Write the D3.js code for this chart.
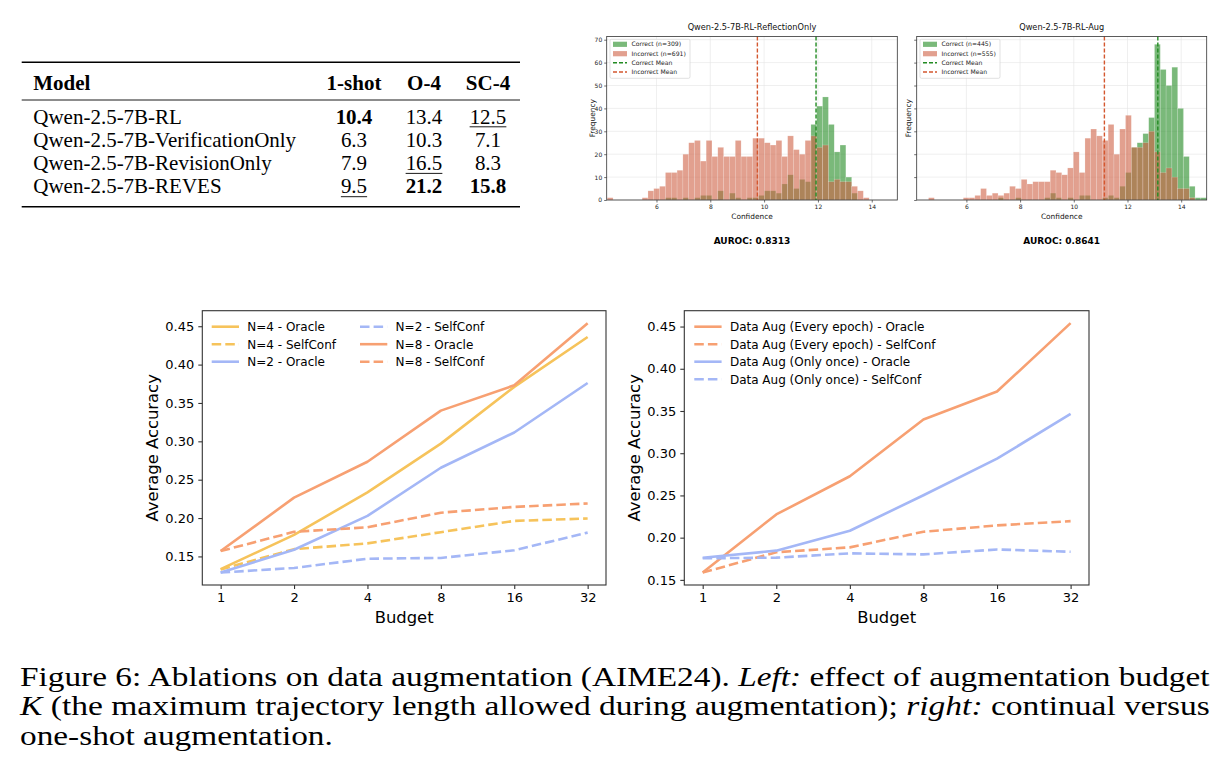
<!DOCTYPE html>
<html>
<head>
<meta charset="utf-8">
<style>
  body { margin: 0; background: #fff; }
  svg { display: block; }
</style>
</head>
<body>
<svg id="fig" width="1228" height="775" font-family="DejaVu Sans, sans-serif"></svg>
<script src="https://d3js.org/d3.v7.min.js"></script>
<script>
// ---- table data ----
const tableHeader = ["Model", "1-shot", "O-4", "SC-4"];
const tableModels = ["Qwen-2.5-7B-RL", "Qwen-2.5-7B-VerificationOnly", "Qwen-2.5-7B-RevisionOnly", "Qwen-2.5-7B-REVES"];
const oneShot = [10.4, 6.3, 7.9, 9.5];
const oracle4 = [13.4, 10.3, 16.5, 21.2];
const selfConf4 = [12.5, 7.1, 8.3, 15.8];

// ---- histogram data (counts per bin) ----
const histXTicks = [6, 8, 10, 12, 14];
const histYTicks = [0, 10, 20, 30, 40, 50, 60, 70];
const leftBinStart = 4.17, leftBinWidth = 0.2163;
const leftIncorrect = [1, 0, 0, 0, 0, 0, 1, 4, 5, 6, 12, 12, 13, 20, 25, 26, 17, 26, 19, 23, 19, 19, 26, 19, 19,
  27, 27, 25, 24, 26, 19, 28, 22, 20, 26, 28, 23, 24, 8, 9, 8, 8, 6, 4, 1];
const leftCorrect = [0, 0, 0, 0, 0, 0, 0, 0, 0, 0, 1, 1, 0, 1, 0, 1, 2, 2, 0, 4, 0, 3, 1, 0, 1,
  1, 2, 4, 4, 3, 7, 11, 5, 9, 8, 33, 41, 45, 33, 21, 24, 10, 3, 0, 0];
const rightBinStart = 4.59, rightBinWidth = 0.2158;
const rightIncorrect = [1, 0, 0, 0, 0, 0, 1, 1, 2, 5, 2, 3, 2, 3, 6, 5, 9, 7, 8, 8, 8, 13, 12, 11, 14,
  21, 12, 27, 31, 28, 26, 33, 20, 31, 37, 23, 23, 25, 30, 21, 12, 14, 10, 5, 5, 1, 0, 0];
const rightCorrect = [0, 0, 0, 0, 0, 0, 0, 0, 0, 0, 0, 0, 1, 0, 0, 1, 0, 0, 0, 0, 1, 3, 1, 0, 1,
  0, 2, 2, 0, 0, 1, 2, 1, 6, 12, 23, 25, 29, 36, 68, 57, 50, 58, 40, 19, 6, 1, 1];
const leftMeans = { correct: 11.93, incorrect: 9.75 };
const rightMeans = { correct: 13.13, incorrect: 11.14 };

// ---- line chart data ----
const budgets = [1, 2, 4, 8, 16, 32];
const accTicks = [0.15, 0.20, 0.25, 0.30, 0.35, 0.40, 0.45];
const n4Oracle = [0.1335, 0.178, 0.2335, 0.297, 0.371, 0.436];
const n4SelfConf = [0.133, 0.1595, 0.167, 0.1816, 0.1963, 0.1994];
const n2Oracle = [0.129, 0.1587, 0.2028, 0.2656, 0.3115, 0.376];
const n2SelfConf = [0.129, 0.135, 0.147, 0.148, 0.158, 0.181];
const n8Oracle = [0.157, 0.2266, 0.2734, 0.340, 0.373, 0.454];
const n8SelfConf = [0.157, 0.182, 0.188, 0.207, 0.2145, 0.219];
const everyOracle = [0.1587, 0.2275, 0.2727, 0.3399, 0.373, 0.454];
const everySelfConf = [0.1587, 0.1827, 0.1885, 0.207, 0.2145, 0.2196];
const onceOracle = [0.1763, 0.1846, 0.2082, 0.2502, 0.2935, 0.3466];
const onceSelfConf = [0.1756, 0.1763, 0.1814, 0.1802, 0.186, 0.1833];

const YELLOW = "#f6c35b", BLUE = "#a4b7f6", ORANGE = "#f7a072";
const GREEN = "#228b22", RED = "#cf6144";
const SERIF = "Liberation Serif, DejaVu Serif, serif";

const svg = d3.select("#fig");
svg.append("rect").attr("width", 1228).attr("height", 775).attr("fill", "#fff");

// ---------------- table ----------------
function drawTable() {
  const g = svg.append("g").attr("font-family", SERIF);
  // fit font size to the widest model name
  const probe = g.append("text").attr("font-size", 20).text(tableModels[1]);
  const fs = 20 * 263 / probe.node().getComputedTextLength();
  probe.remove();

  const left = 21.7, right = 520;
  const colX = [33.3, 354, 424, 488];
  const headY = 89.5;
  const rowY = [123.5, 146.8, 170.1, 193.4];

  g.append("line").attr("x1", left).attr("x2", right).attr("y1", 62.3).attr("y2", 62.3).attr("stroke", "#000").attr("stroke-width", 1.6);
  g.append("line").attr("x1", left).attr("x2", right).attr("y1", 100).attr("y2", 100).attr("stroke", "#000").attr("stroke-width", 0.9);
  g.append("line").attr("x1", left).attr("x2", right).attr("y1", 206.7).attr("y2", 206.7).attr("stroke", "#000").attr("stroke-width", 1.6);

  tableHeader.forEach((h, i) => {
    g.append("text").attr("x", colX[i]).attr("y", headY)
      .attr("text-anchor", i === 0 ? "start" : "middle")
      .attr("font-size", fs).attr("font-weight", "bold").text(h);
  });

  const cols = [oneShot, oracle4, selfConf4];
  tableModels.forEach((m, r) => {
    g.append("text").attr("x", colX[0]).attr("y", rowY[r]).attr("font-size", fs).text(m);
  });
  cols.forEach((vals, c) => {
    const sorted = vals.slice().sort((a, b) => b - a);
    vals.forEach((v, r) => {
      const t = g.append("text").attr("x", colX[c + 1]).attr("y", rowY[r]).attr("text-anchor", "middle")
        .attr("font-size", fs)
        .attr("font-weight", v === sorted[0] ? "bold" : null)
        .text(v.toFixed(1));
      if (v === sorted[1]) {
        const w = t.node().getComputedTextLength();
        g.append("line").attr("x1", colX[c + 1] - w / 2).attr("x2", colX[c + 1] + w / 2)
          .attr("y1", rowY[r] + 3.3).attr("y2", rowY[r] + 3.3).attr("stroke", "#000").attr("stroke-width", 0.9);
      }
    });
  });
}

// ---------------- histograms ----------------
function drawHist(cfg) {
  const g = svg.append("g");
  const x = d3.scaleLinear().domain([4.15, 14.95]).range([cfg.x0, cfg.x1]);
  const y = d3.scaleLinear().domain([0, 71.4]).range([cfg.y1, cfg.y0]);

  g.append("g").selectAll("line").data(histXTicks).join("line")
    .attr("x1", d => x(d)).attr("x2", d => x(d)).attr("y1", cfg.y0).attr("y2", cfg.y1)
    .attr("stroke", "#e4e4e4").attr("stroke-width", 0.6);
  g.append("g").selectAll("line").data(histYTicks).join("line")
    .attr("x1", cfg.x0).attr("x2", cfg.x1).attr("y1", d => y(d)).attr("y2", d => y(d))
    .attr("stroke", "#e4e4e4").attr("stroke-width", 0.6);

  [{ counts: cfg.correct, color: GREEN }, { counts: cfg.incorrect, color: RED }].forEach(s => {
    const bins = s.counts.map((c, i) => ({ c, lo: cfg.start + i * cfg.width, hi: cfg.start + (i + 1) * cfg.width }))
      .filter(d => d.c > 0);
    g.append("g").selectAll("rect").data(bins).join("rect")
      .attr("x", d => x(d.lo)).attr("width", d => x(d.hi) - x(d.lo))
      .attr("y", d => y(d.c)).attr("height", d => y(0) - y(d.c))
      .attr("fill", s.color).attr("fill-opacity", 0.6)
      .attr("stroke", "#fff").attr("stroke-opacity", 0.35).attr("stroke-width", 0.5);
  });

  g.append("line").attr("x1", x(cfg.means.correct)).attr("x2", x(cfg.means.correct)).attr("y1", cfg.y0).attr("y2", cfg.y1)
    .attr("stroke", GREEN).attr("stroke-width", 1.4).attr("stroke-dasharray", "4,2");
  g.append("line").attr("x1", x(cfg.means.incorrect)).attr("x2", x(cfg.means.incorrect)).attr("y1", cfg.y0).attr("y2", cfg.y1)
    .attr("stroke", "#d4572f").attr("stroke-width", 1.4).attr("stroke-dasharray", "4,2");

  g.append("rect").attr("x", cfg.x0).attr("y", cfg.y0).attr("width", cfg.x1 - cfg.x0).attr("height", cfg.y1 - cfg.y0)
    .attr("fill", "none").attr("stroke", "#333").attr("stroke-width", 0.8);

  const xa = g.append("g").attr("transform", `translate(0,${cfg.y1})`)
    .call(d3.axisBottom(x).tickValues(histXTicks).tickSize(2.5).tickPadding(2));
  const ya = g.append("g").attr("transform", `translate(${cfg.x0},0)`)
    .call(d3.axisLeft(y).tickValues(histYTicks).tickSize(2.5).tickPadding(2).tickFormat(cfg.yLabels ? d3.format("d") : () => ""));
  [xa, ya].forEach(a => {
    a.attr("font-family", null).attr("font-size", null);
    a.select(".domain").remove();
    a.selectAll("line").attr("stroke", "#333").attr("stroke-width", 0.7);
    a.selectAll("text").attr("font-size", 6).attr("fill", "#222");
  });

  const cx = (cfg.x0 + cfg.x1) / 2;
  g.append("text").attr("x", cx).attr("y", 30).attr("text-anchor", "middle").attr("font-size", 8.2).attr("fill", "#111").text(cfg.title);
  g.append("text").attr("x", cx).attr("y", 218.5).attr("text-anchor", "middle").attr("font-size", 7.4).attr("fill", "#111").text("Confidence");
  g.append("text").attr("transform", `translate(${cfg.yLabelX},${(cfg.y0 + cfg.y1) / 2}) rotate(-90)`)
    .attr("text-anchor", "middle").attr("dy", "0.35em").attr("font-size", 7.4).attr("fill", "#111").text("Frequency");
  g.append("text").attr("x", cx).attr("y", 243.5).attr("text-anchor", "middle").attr("font-size", 9).attr("font-weight", "bold").text(cfg.auroc);

  // legend
  const lg = g.append("g").attr("transform", `translate(${cfg.legendX},39.3)`);
  lg.append("rect").attr("width", 80).attr("height", 39).attr("rx", 1.5).attr("fill", "#fff").attr("fill-opacity", 0.8)
    .attr("stroke", "#ccc").attr("stroke-width", 0.6);
  const items = [
    { label: `Correct (n=${cfg.nCorrect})`, type: "patch", color: GREEN },
    { label: `Incorrect (n=${cfg.nIncorrect})`, type: "patch", color: RED },
    { label: "Correct Mean", type: "line", color: GREEN },
    { label: "Incorrect Mean", type: "line", color: "#d4572f" }
  ];
  const rows = [5, 14.4, 23.4, 32.7];
  items.forEach((it, i) => {
    if (it.type === "patch") {
      lg.append("rect").attr("x", 3).attr("y", rows[i] - 2.6).attr("width", 14).attr("height", 5.2)
        .attr("fill", it.color).attr("fill-opacity", 0.6);
    } else {
      lg.append("line").attr("x1", 3).attr("x2", 17).attr("y1", rows[i]).attr("y2", rows[i])
        .attr("stroke", it.color).attr("stroke-width", 1.4).attr("stroke-dasharray", "4,2");
    }
    lg.append("text").attr("x", 21.5).attr("y", rows[i]).attr("dy", "0.35em").attr("font-size", 6.1).attr("fill", "#222").text(it.label);
  });
}

// ---------------- line charts ----------------
function drawLines(cfg) {
  const g = svg.append("g");
  const all = cfg.series.flatMap(s => s.values);
  const [mn, mx] = d3.extent(all);
  const pad = (mx - mn) * 0.05;
  const x = d3.scaleLog().base(2)
    .domain([budgets[0] / Math.pow(2, 0.25), budgets[budgets.length - 1] * Math.pow(2, 0.25)])
    .range([cfg.x0, cfg.x1]);
  const y = d3.scaleLinear().domain([mn - pad, mx + pad]).range([cfg.y1, cfg.y0]);
  const line = d3.line().x((d, i) => x(budgets[i])).y(d => y(d));

  cfg.series.forEach(s => {
    g.append("path").attr("d", line(s.values)).attr("fill", "none").attr("stroke", s.color)
      .attr("stroke-width", 2.6).attr("stroke-linejoin", "round")
      .attr("stroke-dasharray", s.dash ? "9.5,4.1" : null);
  });

  g.append("rect").attr("x", cfg.x0).attr("y", cfg.y0).attr("width", cfg.x1 - cfg.x0).attr("height", cfg.y1 - cfg.y0)
    .attr("fill", "none").attr("stroke", "#333").attr("stroke-width", 1.1);

  const xa = g.append("g").attr("transform", `translate(0,${cfg.y1})`)
    .call(d3.axisBottom(x).tickValues(budgets).tickFormat(d3.format("d")).tickSize(4).tickPadding(4));
  const ya = g.append("g").attr("transform", `translate(${cfg.x0},0)`)
    .call(d3.axisLeft(y).tickValues(accTicks).tickFormat(d3.format(".2f")).tickSize(4).tickPadding(4));
  [xa, ya].forEach(a => {
    a.attr("font-family", null).attr("font-size", null);
    a.select(".domain").remove();
    a.selectAll("line").attr("stroke", "#333").attr("stroke-width", 1.1);
    a.selectAll("text").attr("font-size", 13).attr("fill", "#000");
  });

  g.append("text").attr("x", (cfg.x0 + cfg.x1) / 2).attr("y", 622.5).attr("text-anchor", "middle")
    .attr("font-size", 16.4).text("Budget");
  g.append("text").attr("transform", `translate(${cfg.yLabelX},${(cfg.y0 + cfg.y1) / 2}) rotate(-90)`)
    .attr("text-anchor", "middle").attr("dy", "0.35em").attr("font-size", 16.4).text("Average Accuracy");

  const rowsY = [326.7, 344.2, 361.7, 379.3];
  cfg.series.forEach((s, i) => {
    const col = Math.floor(i / cfg.perCol), row = i % cfg.perCol;
    const hx = cfg.legendCols[col];
    g.append("line").attr("x1", hx).attr("x2", hx + 27.3).attr("y1", rowsY[row]).attr("y2", rowsY[row])
      .attr("stroke", s.color).attr("stroke-width", 2.6).attr("stroke-dasharray", s.dash ? "9.5,4.1" : null);
    g.append("text").attr("x", hx + 35.6).attr("y", rowsY[row]).attr("dy", "0.36em").attr("font-size", 12).text(s.label);
  });
}

// ---------------- caption ----------------
function drawCaption() {
  const lines = [
    [["Figure 6: Ablations on data augmentation (AIME24). ", false], ["Left:", true], [" effect of augmentation budget", false]],
    [["K", true], [" (the maximum trajectory length allowed during augmentation); ", false], ["right:", true], [" continual versus", false]],
    [["one-shot augmentation.", false]]
  ];
  const baseY = [685.8, 715.3, 744.8];
  let scale = 1;
  lines.forEach((parts, i) => {
    const holder = svg.append("g").attr("transform", `translate(20,${baseY[i]})`);
    const t = holder.append("text").attr("x", 0).attr("y", 0).attr("font-family", SERIF).attr("font-size", 27.5).attr("fill", "#000");
    parts.forEach(([s, it]) => t.append("tspan").attr("font-style", it ? "italic" : null).text(s));
    const w = t.node().getComputedTextLength();
    if (i === 0) scale = 1190 / w;
    const sx = i < 2 ? 1190 / w : scale;
    holder.attr("transform", `translate(20,${baseY[i]}) scale(${sx},1)`);
  });
}

drawTable();
drawHist({
  x0: 606.7, x1: 897.3, y0: 36.5, y1: 200, start: leftBinStart, width: leftBinWidth,
  correct: leftCorrect, incorrect: leftIncorrect, nCorrect: 309, nIncorrect: 691, means: leftMeans,
  title: "Qwen-2.5-7B-RL-ReflectionOnly", auroc: "AUROC: 0.8313", yLabels: true, yLabelX: 592.5, legendX: 610
});
drawHist({
  x0: 916.7, x1: 1206.7, y0: 36.5, y1: 200, start: rightBinStart, width: rightBinWidth,
  correct: rightCorrect, incorrect: rightIncorrect, nCorrect: 445, nIncorrect: 555, means: rightMeans,
  title: "Qwen-2.5-7B-RL-Aug", auroc: "AUROC: 0.8641", yLabels: false, yLabelX: 908.5, legendX: 920
});
drawLines({
  x0: 202.3, x1: 606, y0: 310.7, y1: 585, yLabelX: 152.5, perCol: 3, legendCols: [211.7, 360],
  series: [
    { label: "N=4 - Oracle", values: n4Oracle, color: YELLOW, dash: false },
    { label: "N=4 - SelfConf", values: n4SelfConf, color: YELLOW, dash: true },
    { label: "N=2 - Oracle", values: n2Oracle, color: BLUE, dash: false },
    { label: "N=2 - SelfConf", values: n2SelfConf, color: BLUE, dash: true },
    { label: "N=8 - Oracle", values: n8Oracle, color: ORANGE, dash: false },
    { label: "N=8 - SelfConf", values: n8SelfConf, color: ORANGE, dash: true }
  ]
});
drawLines({
  x0: 684.3, x1: 1089, y0: 310.7, y1: 585, yLabelX: 634.5, perCol: 4, legendCols: [694.3],
  series: [
    { label: "Data Aug (Every epoch) - Oracle", values: everyOracle, color: ORANGE, dash: false },
    { label: "Data Aug (Every epoch) - SelfConf", values: everySelfConf, color: ORANGE, dash: true },
    { label: "Data Aug (Only once) - Oracle", values: onceOracle, color: BLUE, dash: false },
    { label: "Data Aug (Only once) - SelfConf", values: onceSelfConf, color: BLUE, dash: true }
  ]
});
drawCaption();
</script>
</body>
</html>
